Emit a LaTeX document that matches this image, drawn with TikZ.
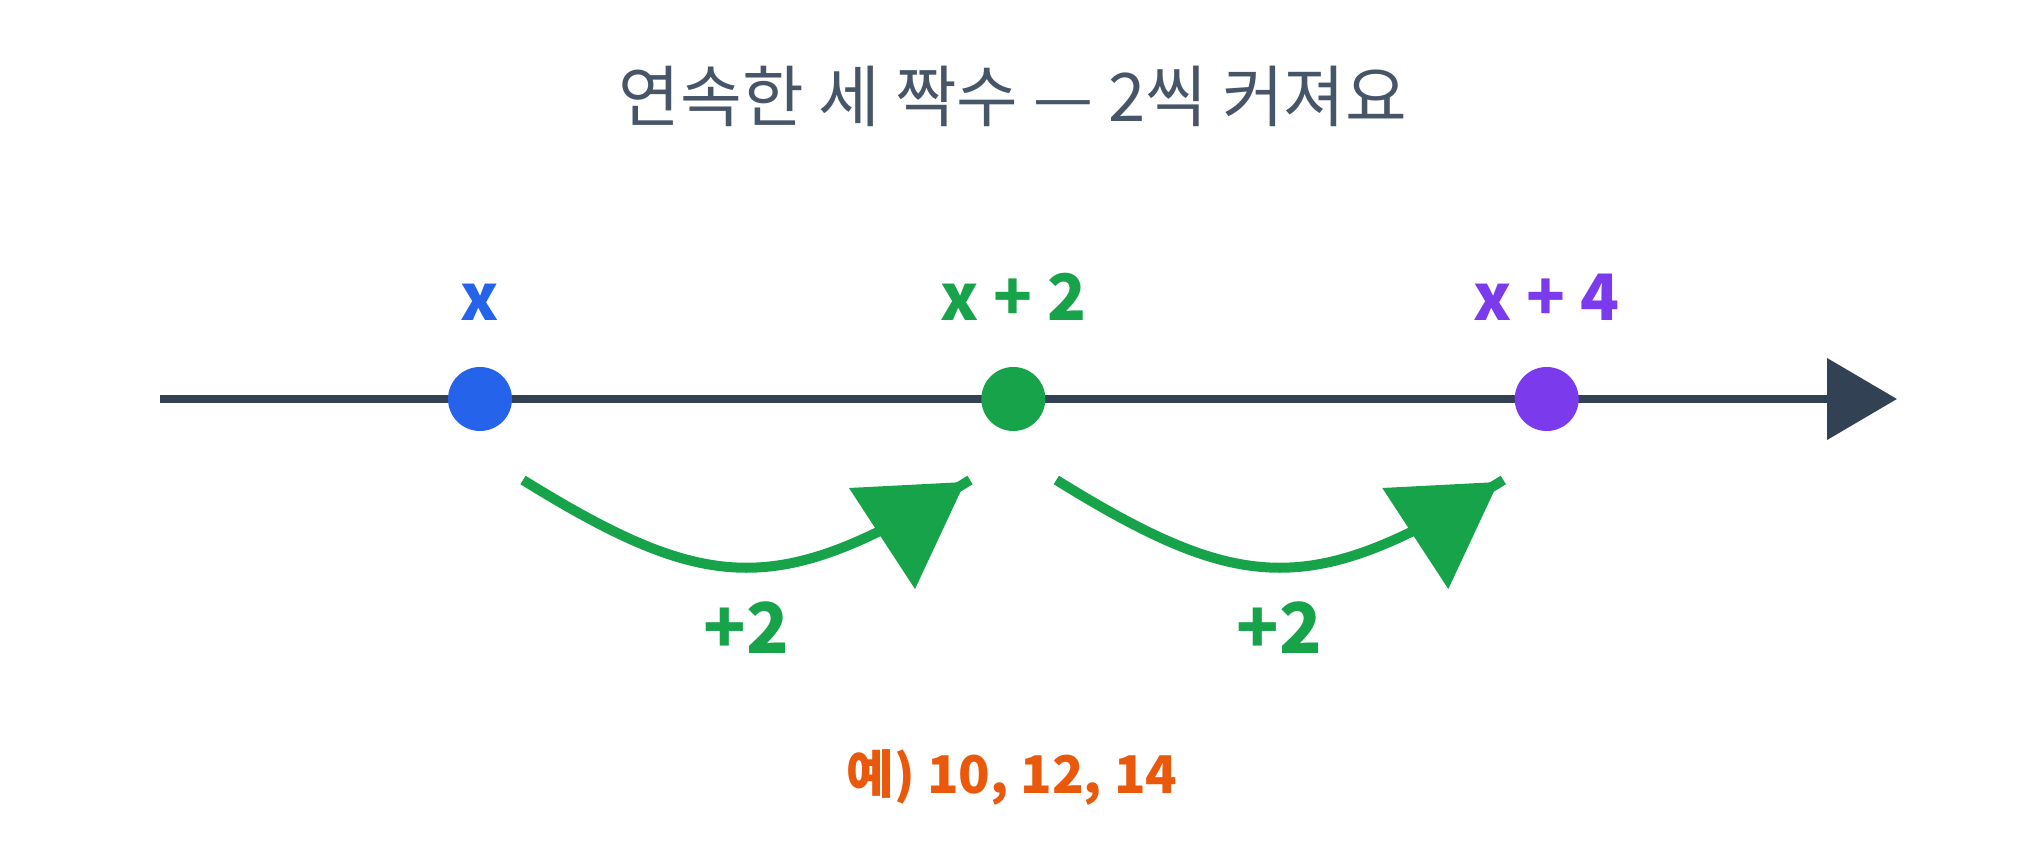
\documentclass[tikz,border=0pt]{standalone}
\usepackage{fontspec}
\setmainfont{Noto Sans CJK KR}
\usetikzlibrary{arrows.meta}
\definecolor{axisc}{HTML}{334155}
\definecolor{titlec}{HTML}{475569}
\definecolor{bluec}{HTML}{2563EB}
\definecolor{greenc}{HTML}{16A34A}
\definecolor{purplec}{HTML}{7C3AED}
\definecolor{orangec}{HTML}{EA580C}
\tikzset{
  dot/.style={circle,inner sep=0pt,minimum size=64pt,fill=#1},
  lbl/.style={anchor=base,inner sep=0pt,text=#1,font=\fontsize{64}{72}\selectfont\bfseries},
  jump/.style={draw=greenc,line width=10pt},
  jumphead/.style={fill=greenc},
}
\begin{document}
\begin{tikzpicture}[x=1pt,y=-1pt]
\useasboundingbox[fill=white] (0,0) rectangle (2027,853);
% title
\node[anchor=base,inner sep=0pt,text=titlec,font=\fontsize{67}{76}\selectfont] (title) at (1013,122) {연속한 세 짝수 — 2씩 커져요};
% axis
\coordinate (axstart) at (160,399);
\coordinate (axend) at (1897,399);
\draw[axisc,line width=8pt,-{Triangle[length=70pt,width=80pt]}] (axstart) -- (axend);
% dots
\node[dot=bluec] (p0) at (480,399) {};
\node[dot=greenc] (p1) at (1013.3,399) {};
\node[dot=purplec] (p2) at (1546.7,399) {};
% labels
\node[lbl=bluec] (l0) at (480,320) {x};
\node[lbl=greenc] (l1) at (1013.3,320) {x + 2};
\node[lbl=purplec] (l2) at (1546.7,320) {x + 4};
% jumps
\coordinate (a0) at (523,480);
\coordinate (b0) at (970,480);
\coordinate (a1) at (1056.3,480);
\coordinate (b1) at (1503.3,480);
\draw[jump] (a0) .. controls (712,597) and (781,597) .. (b0);
\fill[jumphead] (849,488) -- (965,482) -- (915,589) -- cycle;
\draw[jump] (a1) .. controls (1245.3,597) and (1314.3,597) .. (b1);
\fill[jumphead] (1382.3,488) -- (1498.3,482) -- (1448.3,589) -- cycle;
\node[anchor=base,inner sep=0pt,text=greenc,font=\fontsize{70}{78}\selectfont\bfseries] (j0) at (746,653) {+2};
\node[anchor=base,inner sep=0pt,text=greenc,font=\fontsize{70}{78}\selectfont\bfseries] (j1) at (1279.3,653) {+2};
% example
\node[anchor=base,inner sep=0pt,text=orangec,font=\fontsize{52}{60}\selectfont\bfseries] (ex) at (1012,793) {예) 10, 12, 14};
\end{tikzpicture}
\end{document}
